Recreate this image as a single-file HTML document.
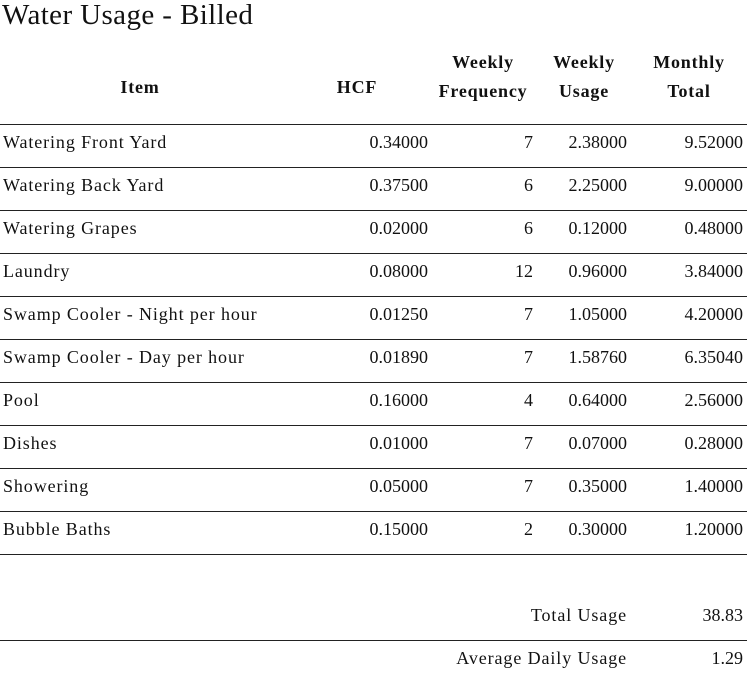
<!DOCTYPE html>
<html><head><meta charset="utf-8"><style>
body{margin:0;width:747px;height:677px;background:#fff;overflow:hidden;font-family:"Liberation Serif",serif;color:#111;position:relative}
.t{position:absolute;white-space:nowrap;font-size:18px;line-height:20px}
.r{text-align:right}
.c{text-align:center}
.b{font-weight:bold;font-size:18px;letter-spacing:0.8px}
.ln{position:absolute;left:0;width:747px;height:1px;background:#222}
.it{letter-spacing:0.9px}
</style></head><body>
<div class="t" style="left:2px;top:-1px;font-size:29px;line-height:32px;letter-spacing:0.4px">Water Usage - Billed</div>
<div class="t b c" style="left:90px;width:100px;top:77px">Item</div>
<div class="t b c" style="left:307px;width:100px;top:77px">HCF</div>
<div class="t b c" style="left:428px;width:110px;top:48px;line-height:29px">Weekly<br>Frequency</div>
<div class="t b c" style="left:539px;width:90px;top:48px;line-height:29px">Weekly<br>Usage</div>
<div class="t b c" style="left:639px;width:100px;top:48px;line-height:29px">Monthly<br>Total</div>
<div id="rows"></div>
<div class="t r it" style="left:400px;width:227px;top:605px">Total Usage</div>
<div class="t r" style="left:640px;width:103px;top:605px">38.83</div>
<div class="ln" style="top:640px"></div>
<div class="t r it" style="left:400px;width:227px;top:648px">Average Daily Usage</div>
<div class="t r" style="left:640px;width:103px;top:648px">1.29</div>
<script>
const items=["Watering Front Yard","Watering Back Yard","Watering Grapes","Laundry","Swamp Cooler - Night per hour","Swamp Cooler - Day per hour","Pool","Dishes","Showering","Bubble Baths"];
const hcf=["0.34000","0.37500","0.02000","0.08000","0.01250","0.01890","0.16000","0.01000","0.05000","0.15000"];
const freq=["7","6","6","12","7","7","4","7","7","2"];
const weekly=["2.38000","2.25000","0.12000","0.96000","1.05000","1.58760","0.64000","0.07000","0.35000","0.30000"];
const monthly=["9.52000","9.00000","0.48000","3.84000","4.20000","6.35040","2.56000","0.28000","1.40000","1.20000"];
const host=document.getElementById('rows');
function line(y,name){const d=document.createElement('div');d.className='ln';d.style.top=y+'px';


host.appendChild(d);}
function cell(txt,x,w,y,right,name,extra){const d=document.createElement('div');d.className='t'+(right?' r':'')+(extra?' '+extra:'');
d.style.left=x+'px';d.style.width=w+'px';d.style.top=y+'px';d.textContent=txt;


host.appendChild(d);}
line(124,'header-divider');
items.forEach((it,i)=>{const y=124+i*43;const ty=y+8;
cell(it,3,320,ty,false,'item-cell','it');
cell(hcf[i],300,128,ty,true,'hcf-cell');
cell(freq[i],440,93,ty,true,'frequency-cell');
cell(weekly[i],540,87,ty,true,'weekly-usage-cell');
cell(monthly[i],640,103,ty,true,'monthly-total-cell');
line(y+43,'row-divider');});
</script>
</body></html>
